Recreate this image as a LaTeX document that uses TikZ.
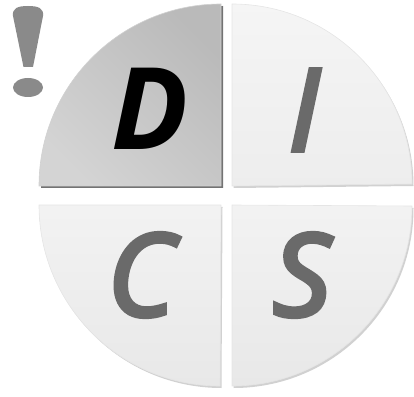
\documentclass[tikz,border=0pt]{standalone}
\usepackage{fontspec}
\setmainfont{Open Sans}
\newfontfamily\semifont[FakeBold=4]{Open Sans}
\begin{document}
\begin{tikzpicture}[x=1pt,y=1pt,
  letter/.style={font=\semifont\fontsize{114}{114}\selectfont\itshape, text=gray42, inner sep=0pt},
  boldletter/.style={font=\fontsize{114}{114}\selectfont\bfseries\itshape, text=black, inner sep=0pt},
]
\definecolor{gray42}{HTML}{6A6A6A}
\definecolor{exc}{HTML}{8A8A8A}
\useasboundingbox (0,0) rectangle (414,396);
% shadows
\fill[black!55] (223,208) -- (41,208) arc[start angle=180,end angle=90,radius=182] -- cycle;
\fill[black!18] (233.5,208) -- (233.5,390) arc[start angle=90,end angle=0,radius=180] -- cycle;
\fill[black!18] (222.5,189) -- (40.5,189) arc[start angle=180,end angle=270,radius=181] -- cycle;
\fill[black!18] (233.5,189) -- (233.5,8) arc[start angle=270,end angle=360,radius=180] -- cycle;
% quadrants
\path[left color=black!27, right color=black!17, shading angle=-45, draw=black!18, line width=0.6pt]
  (221,210) -- (39,210) arc[start angle=180,end angle=90,radius=182] -- cycle;
\path[top color=black!4, bottom color=black!7, draw=black!10, line width=0.6pt]
  (232,210) -- (232,392) arc[start angle=90,end angle=0,radius=180] -- cycle;
\path[top color=black!5, bottom color=black!9, draw=black!10, line width=0.6pt]
  (221,191) -- (39,191) arc[start angle=180,end angle=270,radius=181] -- cycle;
\path[top color=black!5, bottom color=black!9, draw=black!10, line width=0.6pt]
  (232,191) -- (232,10) arc[start angle=270,end angle=360,radius=180] -- cycle;
% letters
\node[boldletter] (D) at (150,287) {D};
\node[letter] (I) at (304,286) {I};
\node[letter] (C) at (141,121) {C};
\node[letter] (S) at (302,121) {S};
% exclamation mark
\fill[exc] (23.5,329) -- (13,380) .. controls (12,388) and (18,390) .. (28,390)
  .. controls (38,390) and (44,388) .. (43,380) -- (33,329) -- cycle;
\fill[exc] (28,308.5) ellipse[x radius=15, y radius=9.5];
\end{tikzpicture}
\end{document}
